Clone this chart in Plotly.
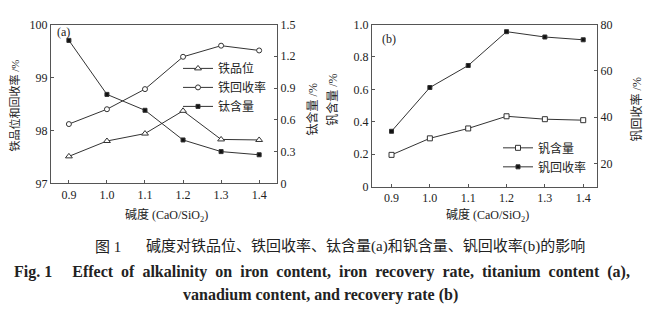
import plotly.graph_objects as go

alkalinity = [0.9, 1.0, 1.1, 1.2, 1.3, 1.4]
iron_grade = [97.51, 97.80, 97.94, 98.37, 97.83, 97.82]
iron_recovery = [98.12, 98.40, 98.78, 99.39, 99.60, 99.51]
ti_content = [1.35, 0.84, 0.69, 0.41, 0.30, 0.27]
v_content = [0.196, 0.298, 0.359, 0.434, 0.416, 0.410]
v_recovery = [33.9, 52.8, 62.3, 76.9, 74.6, 73.4]

x_ticks = [0.9, 1.0, 1.1, 1.2, 1.3, 1.4]
x_ticktext = ["0.9", "1.0", "1.1", "1.2", "1.3", "1.4"]
y1_ticks = [97, 98, 99, 100]
y2_ticks = [0, 0.3, 0.6, 0.9, 1.2, 1.5]
y2_text = ["0", "0.3", "0.6", "0.9", "1.2", "1.5"]
y3_ticks = [0, 0.2, 0.4, 0.6, 0.8, 1.0]
y3_text = ["0", "0.2", "0.4", "0.6", "0.8", "1.0"]
y4_ticks = [20, 40, 60, 80]

LINE = "#333333"
AX = "#555555"
TXT = "#222222"
SERIF = "Liberation Serif"
CJK = "Liberation Serif, Noto Sans CJK SC"
NB = "\u00a0"

fig = go.Figure()

def tr(x, y, name, symbol, fill, size, xa, ya, legend):
    return go.Scatter(
        x=x, y=y, name=name, mode="lines+markers", xaxis=xa, yaxis=ya,
        line=dict(color=LINE, width=1),
        marker=dict(symbol=symbol, size=size, color=fill,
                    line=dict(color=LINE, width=1)),
        legend=legend,
    )

fig.add_trace(tr(alkalinity, iron_grade, "铁品位", "triangle-up", "white", 6, "x", "y", "legend"))
fig.add_trace(tr(alkalinity, iron_recovery, "铁回收率", "circle", "white", 5, "x", "y", "legend"))
fig.add_trace(tr(alkalinity, ti_content, "钛含量", "square", "#111111", 4, "x", "y2", "legend"))
fig.add_trace(tr(alkalinity, v_content, "钒含量", "square", "white", 5, "x2", "y3", "legend2"))
fig.add_trace(tr(alkalinity, v_recovery, "钒回收率", "square", "#111111", 4, "x2", "y4", "legend2"))

tickfont = dict(family=SERIF, size=12, color=TXT)
common = dict(showline=True, linecolor=AX, linewidth=1, ticks="inside", ticklen=3,
              tickcolor=AX, showgrid=False, zeroline=False, tickfont=tickfont)

fig.update_layout(
    width=645, height=326,
    margin=dict(l=0, r=0, t=0, b=0),
    paper_bgcolor="white", plot_bgcolor="white",
    showlegend=True,
    xaxis=dict(domain=[0.0791, 0.4295], range=[0.853, 1.447], tickvals=x_ticks,
               ticktext=x_ticktext, anchor="y", mirror=True, **common),
    yaxis=dict(domain=[0.4347, 0.9439], range=[97, 100], tickvals=y1_ticks,
               anchor="x", **common),
    yaxis2=dict(range=[0, 1.5], tickvals=y2_ticks, ticktext=y2_text,
                overlaying="y", side="right", anchor="x", **common),
    xaxis2=dict(domain=[0.5767, 0.9256], range=[0.849, 1.436], tickvals=x_ticks,
                ticktext=x_ticktext, anchor="y3", mirror=True, **common),
    yaxis3=dict(domain=[0.4242, 0.9439], range=[0, 1.0], tickvals=y3_ticks,
                ticktext=y3_text, anchor="x2", **common),
    yaxis4=dict(range=[10, 80], tickvals=y4_ticks, overlaying="y3", side="right",
                anchor="x2", **common),
    legend=dict(x=178/645, y=1-49/326, xanchor="left", yanchor="top",
                font=dict(family="Noto Sans CJK SC", size=12, color=TXT),
                bgcolor="rgba(0,0,0,0)", tracegroupgap=0, itemwidth=30),
    legend2=dict(x=498/645, y=1-132/326, xanchor="left", yanchor="top",
                 font=dict(family="Noto Sans CJK SC", size=12, color=TXT),
                 bgcolor="rgba(0,0,0,0)", tracegroupgap=0, itemwidth=30),
)

ann = []
def A(text, x, y, size=12, angle=0, family=CJK, xanchor="center", yanchor="middle"):
    ann.append(dict(text=text, x=x/645, y=1-y/326, xref="paper", yref="paper",
                    showarrow=False, textangle=angle, xanchor=xanchor, yanchor=yanchor,
                    font=dict(family=family, size=size, color=TXT)))

A("铁品位和回收率 /%", 15, 103, 11, -90)
A("钛含量 /%", 312, 107, 12, -90)
A("钒含量 /%", 333, 97, 12, -90)
A("钒回收率 /%", 636, 107, 12, -90)
A("碱度 (CaO/SiO<sub>2</sub>)", 166, 218, 12)
A("碱度 (CaO/SiO<sub>2</sub>)", 487, 218, 12)
A("(a)", 55, 26, 12, family=SERIF, xanchor="left")
A("(b)", 380, 33, 12, family=SERIF, xanchor="left")
A("图 1", 108, 251, 15)
A("碱度对铁品位、铁回收率、钛含量(a)和钒含量、钒回收率(b)的影响", 365, 250, 15)
g = NB * 2
line2 = ("Fig. 1" + NB * 5 + "Effect" + g + "of" + g + "alkalinity" + g + "on" + g + "iron" + g +
         "content," + g + "iron" + g + "recovery" + g + "rate," + g + "titanium" + g +
         "content" + g + "(a),")
A("<b>" + line2 + "</b>", 322, 277, 16, family=SERIF)
A("<b>vanadium content, and recovery rate (b)</b>", 320, 301, 16, family=SERIF)
fig.update_layout(annotations=ann)

fig.write_html("out.html")
